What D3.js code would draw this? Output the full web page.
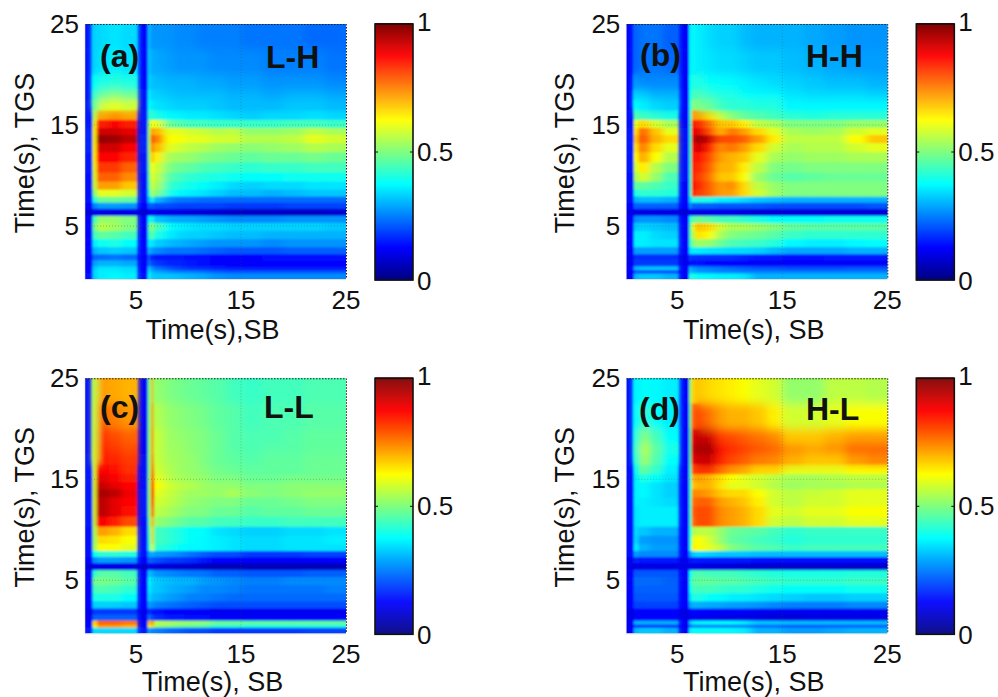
<!DOCTYPE html>
<html><head><meta charset="utf-8">
<script src="https://cdnjs.cloudflare.com/ajax/libs/d3/7.8.5/d3.min.js"></script>
<style>html,body{margin:0;background:#fff}svg{display:block}text{font-family:"Liberation Sans",Arial,sans-serif;fill:#111}</style>
</head><body><div id="chart"></div>
<script>
const colEdges=[-0.4,.85,1.4,2.4,3.6,5,6.1,6.4,6.8,7.6,8.6,9.6,10.8,12,13.5,15,17,19,21,23,25.6];
const rowEdges=[25.6,22.5,20,18.5,17.5,16.5,15.5,14.7,14,13.2,12.3,11.3,10.3,9.4,8.6,7.9,7.3,6.7,6,5.3,4.5,3.7,2.9,2.2,1.6,1,.6,.3,-.8];
const xTicks=[5,15,25], yTicks=[5,15,25], barTicks=[0,.5,1];
const valuesA=[
[14,33,34,35,34,13,31,28,27,27,26,26,25,25,25,24,24,24,23,23],
[14,33,35,36,35,13,32,30,29,28,27,27,27,26,26,26,25,25,25,24],
[14,38,40,41,40,13,33,32,31,30,30,30,29,29,28,28,27,27,27,26],
[14,42,48,50,48,14,36,34,33,32,31,31,31,31,30,30,29,30,30,29],
[15,47,58,60,58,14,38,36,35,34,33,33,33,32,31,31,31,32,32,31],
[15,55,72,74,72,15,42,42,40,38,37,36,36,35,34,33,34,34,35,34],
[15,60,85,87,85,15,50,62,60,48,46,44,44,43,43,43,43,44,44,43],
[16,62,92,92,90,15,52,72,70,60,60,58,57,55,56,52,52,53,56,54],
[16,62,98,97,94,16,52,78,76,62,62,60,60,58,58,55,55,56,60,58],
[16,62,92,92,88,16,52,74,70,60,58,56,55,53,52,51,52,53,55,54],
[15,62,87,87,84,15,50,68,64,54,53,52,50,49,48,47,48,48,49,48],
[15,60,82,82,78,15,48,62,58,50,48,47,45,44,43,42,43,43,44,44],
[14,58,78,78,74,14,46,60,56,46,44,42,41,40,39,38,38,39,39,39],
[14,56,72,72,68,14,44,58,54,43,41,39,38,36,34,33,34,34,35,35],
[14,50,60,60,58,14,40,55,50,40,37,36,35,33,31,31,30,31,32,32],
[14,40,48,48,47,14,32,40,31,26,24,24,23,23,23,23,23,23,23,23],
[13,25,28,28,27,13,21,22,20,20,19,19,19,19,18,18,18,19,19,19],
[9,10,10,10,10,9,10,11,10,10,10,9,9,8,7,7,7,7,7,8],
[12,44,52,52,50,12,38,40,32,30,29,29,28,27,26,26,26,27,27,27],
[13,48,55,53,50,13,45,52,45,38,36,35,34,34,33,33,33,33,33,32],
[13,44,47,46,44,13,42,48,40,36,34,33,33,32,31,31,30,30,30,30],
[13,36,39,40,38,13,36,36,33,31,30,29,28,27,27,27,26,27,27,27],
[13,30,32,33,32,13,30,28,26,24,24,24,23,22,21,21,21,22,22,22],
[12,22,23,24,23,12,21,16,15,15,15,14,14,13,13,13,14,14,14,14],
[12,28,30,30,29,12,23,20,18,16,16,15,14,13,12,12,13,13,13,13],
[13,32,35,35,34,13,32,28,24,21,19,17,17,16,15,15,15,15,15,15],
[13,34,36,36,35,13,35,31,29,27,25,25,24,22,21,21,21,21,21,21],
[14,33,36,37,36,14,37,33,32,32,31,30,29,27,26,26,26,26,26,26]];
const valuesB=[
[13,22,24,24,22,12,36,38,36,34,33,33,31,30,30,30,29,28,27,27],
[13,22,24,24,23,12,36,38,36,35,34,34,33,32,32,31,30,29,28,28],
[13,27,26,26,26,12,38,40,40,38,38,37,36,35,34,33,32,31,31,30],
[13,33,32,30,30,13,39,44,44,42,40,40,38,37,37,35,34,34,34,33],
[13,38,36,34,33,13,40,50,50,48,44,42,42,41,41,37,37,37,37,37],
[14,46,44,42,40,13,42,72,72,66,58,52,48,46,44,42,41,42,42,42],
[14,60,66,58,54,13,42,85,84,76,68,68,64,56,54,50,50,50,52,52],
[15,65,76,68,60,14,42,88,90,80,70,76,72,66,60,54,53,54,58,60],
[15,68,78,70,66,14,42,90,97,92,80,80,78,72,64,56,56,56,62,68],
[15,65,74,66,60,14,42,87,92,85,74,76,72,66,58,54,55,55,58,60],
[15,62,70,62,55,14,42,85,86,80,72,70,68,60,54,52,53,53,54,54],
[15,58,64,55,50,14,42,84,84,78,70,70,64,56,50,49,50,50,50,50],
[14,54,58,52,45,14,42,84,82,76,68,68,62,52,48,46,47,48,48,48],
[14,47,47,45,43,13,42,86,84,78,72,74,66,56,52,50,50,50,50,50],
[14,40,42,42,41,13,42,84,82,78,72,72,66,58,53,50,50,50,50,50],
[14,30,31,31,30,13,34,42,40,40,36,36,34,32,31,30,30,30,30,30],
[13,22,22,22,22,13,26,22,22,22,21,21,21,21,20,20,20,20,20,21],
[10,10,10,10,10,9,11,10,10,10,10,10,9,9,9,9,9,9,9,9],
[12,26,27,27,26,12,40,46,48,46,44,44,42,40,38,38,38,39,39,39],
[13,32,33,32,31,13,45,60,68,66,58,54,54,52,50,47,46,46,46,46],
[13,36,36,34,33,13,44,55,65,62,54,50,49,48,46,43,42,42,42,42],
[13,36,36,35,35,13,42,50,53,52,48,45,44,43,41,37,36,36,37,38],
[12,28,28,28,28,12,35,36,36,35,35,34,34,33,31,29,29,29,30,30],
[11,17,17,17,17,11,18,17,17,17,17,17,16,15,15,14,14,15,15,15],
[11,18,18,18,18,11,14,14,14,13,13,13,13,12,12,12,12,12,12,12],
[13,30,32,32,32,13,30,28,26,25,24,23,22,21,21,20,20,20,21,21],
[11,18,18,18,18,11,32,30,28,27,26,26,25,25,25,25,25,25,25,25],
[12,30,32,32,30,13,40,40,38,37,36,36,35,30,30,30,30,30,30,30]];
const valuesC=[
[14,55,72,71,70,13,48,70,52,50,49,48,47,46,44,43,44,44,45,45],
[14,56,78,75,73,13,48,74,55,52,51,50,49,47,46,44,45,45,46,46],
[14,56,82,80,78,13,48,76,57,53,52,51,50,48,46,45,45,46,47,47],
[14,57,84,82,80,13,48,76,57,53,53,51,50,48,46,45,46,46,47,47],
[15,57,85,84,82,14,49,78,57,54,53,52,50,48,47,46,47,47,48,48],
[15,58,88,86,83,14,49,78,58,55,53,52,51,49,48,47,47,47,48,48],
[15,58,90,87,85,14,50,80,60,56,54,53,52,50,50,48,48,49,49,49],
[15,58,93,90,87,14,50,83,62,58,56,55,53,52,52,50,50,51,51,51],
[15,58,96,94,89,15,50,84,60,57,55,53,53,52,54,51,50,51,52,52],
[15,58,94,90,87,15,50,82,58,56,54,52,51,50,50,48,48,49,50,50],
[15,58,94,90,86,15,50,78,56,54,52,50,50,48,48,46,47,47,48,48],
[15,56,88,85,80,14,47,70,52,50,48,46,46,44,44,43,43,44,44,44],
[14,54,72,70,66,14,45,66,44,42,40,38,38,35,34,33,33,34,34,35],
[14,52,66,65,62,14,43,66,44,42,40,38,37,36,35,34,34,35,35,36],
[14,52,62,62,60,14,41,62,42,40,38,37,37,36,35,34,34,35,35,35],
[14,38,42,42,41,14,28,30,28,27,26,24,22,20,20,18,18,18,19,19],
[13,26,28,28,27,13,22,22,20,18,18,17,15,13,13,12,12,12,12,13],
[9,10,10,10,10,8,10,10,9,9,8,8,7,6,6,6,6,6,6,6],
[12,42,46,46,44,12,32,30,27,26,25,24,24,22,22,21,21,21,22,22],
[13,48,49,48,46,13,37,34,32,31,30,30,28,27,26,25,25,26,26,26],
[13,44,45,44,42,13,36,33,32,30,29,28,26,26,25,24,24,24,24,25],
[13,40,40,40,38,13,34,31,30,28,27,25,25,24,23,23,23,23,23,23],
[13,33,33,33,32,13,28,27,25,24,23,22,21,20,20,20,20,20,20,20],
[11,18,18,18,18,11,17,16,14,13,13,12,12,11,11,11,11,11,11,11],
[11,22,22,22,22,11,24,20,17,15,15,14,14,12,12,12,12,12,12,12],
[13,66,78,78,76,13,70,74,56,54,53,52,52,48,48,47,47,47,47,47],
[13,60,72,72,70,13,64,66,52,50,48,47,46,42,42,41,41,41,41,41],
[15,34,34,34,34,15,28,26,25,23,22,20,20,18,18,18,18,18,19,19]];
const valuesD=[
[14,36,38,37,36,13,50,66,68,66,65,64,62,60,58,52,52,56,56,55],
[14,37,42,38,36,13,46,76,80,76,72,70,70,68,64,58,58,60,62,62],
[14,40,50,44,38,13,44,88,93,92,82,80,78,76,74,68,68,70,72,72],
[14,42,55,47,40,13,44,90,96,98,88,84,82,80,78,74,72,74,78,78],
[14,40,52,45,38,13,44,88,92,92,84,80,78,75,74,70,68,68,72,74],
[14,37,46,42,36,13,44,80,82,82,76,72,70,66,66,60,60,60,62,62],
[14,36,40,38,35,13,43,70,72,70,66,62,60,58,56,54,54,55,56,56],
[14,36,37,35,33,13,42,68,70,70,65,60,60,58,55,53,54,54,55,55],
[14,36,37,35,33,13,42,74,74,72,68,66,66,62,58,56,57,58,60,60],
[14,36,36,35,34,13,42,76,78,78,72,70,68,64,58,56,58,58,60,60],
[14,35,36,36,36,13,42,78,80,80,74,72,70,66,60,58,60,60,62,62],
[14,35,36,36,36,13,42,76,80,80,74,72,70,66,58,56,58,58,60,60],
[14,34,32,30,30,13,40,54,56,56,52,48,47,46,44,42,43,43,43,43],
[14,34,28,27,27,13,40,60,62,58,52,47,46,44,43,41,42,42,42,42],
[14,36,30,28,28,13,40,64,62,60,56,50,48,46,45,43,44,44,44,44],
[14,28,26,26,26,13,28,32,34,33,32,32,32,31,31,31,31,31,31,31],
[11,16,15,15,15,11,15,15,15,15,15,15,15,14,14,14,14,14,14,14],
[10,10,10,10,10,10,10,10,10,9,9,9,8,8,8,8,8,8,8,8],
[12,21,21,21,21,12,38,44,45,44,44,44,43,42,41,40,40,40,41,41],
[13,23,23,23,22,13,40,46,47,47,46,46,45,44,43,42,42,42,43,43],
[13,22,22,22,22,13,38,44,44,44,43,42,42,40,39,38,38,38,39,39],
[13,21,21,21,21,13,35,40,40,38,38,36,36,35,34,33,32,32,33,33],
[13,19,19,19,19,13,28,30,30,29,29,28,28,27,26,25,25,25,26,26],
[10,13,13,13,13,10,13,13,13,12,12,12,12,11,11,11,11,11,11,11],
[10,13,13,13,13,10,11,11,11,11,10,10,10,10,9,9,10,10,10,10],
[12,30,30,30,30,12,32,36,37,38,38,38,36,32,32,31,31,31,31,31],
[11,16,16,16,16,11,22,24,24,24,24,24,24,22,22,21,21,21,21,21],
[12,30,32,32,30,12,36,38,38,38,38,37,36,30,30,28,28,29,30,30]];

const jet=d3.scaleLinear()
  .domain([0,.125,.375,.625,.875,1])
  .range(["#000080","#0000ff","#00ffff","#ffff00","#ff0000","#800000"])
  .clamp(true);

const panels=[
 {id:"a",values:valuesA,left:85,top:24,tag:"(a)",name:"L-H",xTitle:"Time(s),SB",xTitleY:339,tagX:100,tagY:67,nameX:266,nameY:68,yTitleX:34},
 {id:"b",values:valuesB,left:626.3,top:24,tag:"(b)",name:"H-H",xTitle:"Time(s), SB",xTitleY:339,tagX:640,tagY:66,nameX:806,nameY:67,yTitleX:574},
 {id:"c",values:valuesC,left:85,top:378.3,tag:"(c)",name:"L-L",xTitle:"Time(s), SB",xTitleY:690.5,tagX:100,tagY:418,nameX:264,nameY:418,yTitleX:34},
 {id:"d",values:valuesD,left:626.3,top:378.3,tag:"(d)",name:"H-L",xTitle:"Time(s), SB",xTitleY:690.5,tagX:639,tagY:420,nameX:806,nameY:420,yTitleX:574}
];
const passes=[
 {key:"p0",std:"1.1",test:()=>true},
 {key:"p1",std:"4 1",test:(r,c)=>c>=8},
 {key:"p2",std:"3 1",test:(r,c)=>c>=2&&c<=4},
 {key:"p3",std:"4 5",test:(r,c)=>c>=8&&r<=4},
 {key:"p4",std:"3 4",test:(r,c)=>c>=1&&c<=4&&r<=4}
];
const W=261,H=255,barW=38,barGap=29.5,FS=26,TS=27;
const svg=d3.select("#chart").append("svg").attr("width",998).attr("height",697);
const defs=svg.append("defs");
passes.forEach(s=>{
  defs.append("filter").attr("id",s.key).attr("filterUnits","userSpaceOnUse")
    .attr("x",0).attr("y",0).attr("width",998).attr("height",697)
    .append("feGaussianBlur").attr("stdDeviation",s.std);
});

panels.forEach(p=>{
  const x=d3.scaleLinear().domain([.14,25]).range([p.left,p.left+W]);
  const y=d3.scaleLinear().domain([-.25,25]).range([p.top+H,p.top]);
  defs.append("clipPath").attr("id","clip"+p.id).append("rect")
    .attr("x",p.left).attr("y",p.top).attr("width",W).attr("height",H);
  const cells=p.values.flatMap((row,r)=>row.map((v,c)=>({r,c,v})));
  const clipped=svg.append("g").attr("clip-path",`url(#clip${p.id})`);
  passes.forEach(s=>{
    clipped.append("g").attr("filter",`url(#${s.key})`)
      .selectAll("rect").data(cells.filter(d=>s.test(d.r,d.c))).join("rect")
      .attr("x",d=>x(colEdges[d.c]))
      .attr("y",d=>y(rowEdges[d.r]))
      .attr("width",d=>x(colEdges[d.c+1])-x(colEdges[d.c])+.6)
      .attr("height",d=>y(rowEdges[d.r+1])-y(rowEdges[d.r])+.6)
      .attr("fill",d=>jet(d.v/100));
  });
  const grid=svg.append("g").attr("fill","none").attr("stroke","#3a5a3a").attr("stroke-opacity",.35).attr("stroke-dasharray","1 2");
  grid.selectAll(".gy").data(yTicks.slice(0,2)).join("line").attr("x1",p.left).attr("x2",p.left+W).attr("y1",d=>y(d)).attr("y2",d=>y(d));
  grid.selectAll(".gx").data(xTicks.slice(1,2)).join("line").attr("y1",p.top).attr("y2",p.top+H).attr("x1",d=>x(d)).attr("x2",d=>x(d));
  svg.append("path").attr("d",`M${p.left},${p.top+.5}H${p.left+W+.5}V${p.top+H}`)
    .attr("fill","none").attr("stroke","#222").attr("stroke-dasharray","1.5 1.5");
  svg.append("path").attr("d",`M${p.left},${p.top}V${p.top+H+.5}H${p.left+W}`)
    .attr("fill","none").attr("stroke","#ccc").attr("stroke-opacity",.6);
  svg.append("g").selectAll("text").data(xTicks).join("text")
    .attr("x",d=>x(d)).attr("y",p.top+H+30).attr("text-anchor","middle").attr("font-size",FS).text(d=>d);
  svg.append("g").selectAll("text").data(yTicks).join("text")
    .attr("x",p.left-6).attr("y",d=>y(d)+9).attr("text-anchor","end").attr("font-size",FS).text(d=>d);
  svg.append("text").attr("x",p.left+W/2-3).attr("y",p.xTitleY).attr("text-anchor","middle").attr("font-size",TS).text(p.xTitle);
  svg.append("text").attr("transform",`translate(${p.yTitleX},${p.top+129}) rotate(-90)`)
    .attr("text-anchor","middle").attr("font-size",TS).text("Time(s), TGS");
  svg.append("text").attr("x",p.tagX).attr("y",p.tagY).attr("font-size",32).attr("font-weight","bold").attr("fill","#000").text(p.tag);
  svg.append("text").attr("x",p.nameX).attr("y",p.nameY).attr("font-size",32).attr("font-weight","bold").attr("fill","#000").text(p.name);
  const bx=p.left+W+barGap-.5, bt=p.top, bh=256;
  const b=d3.scaleLinear().domain([0,1]).range([bt+bh,bt]);
  const levels=d3.range(256).map(i=>i/255);
  svg.append("g").selectAll("rect").data(levels).join("rect")
    .attr("x",bx).attr("width",barW).attr("y",d=>b(d)-bh/256).attr("height",bh/256+.5).attr("fill",d=>jet(d));
  svg.append("rect").attr("x",bx).attr("y",bt).attr("width",barW).attr("height",bh)
    .attr("fill","none").attr("stroke","#111").attr("stroke-width",1.6);
  svg.append("g").selectAll("text").data(barTicks).join("text")
    .attr("x",bx+barW+4).attr("y",d=>b(d)+(d===1?7:d===0?10:9)).attr("font-size",FS).text(d=>d);
  svg.append("g").selectAll("path").data([.5]).join("path")
    .attr("d",d=>`M${bx},${b(d)}h3M${bx+barW-3},${b(d)}h3`).attr("stroke","#111").attr("fill","none");
});
</script></body></html>
